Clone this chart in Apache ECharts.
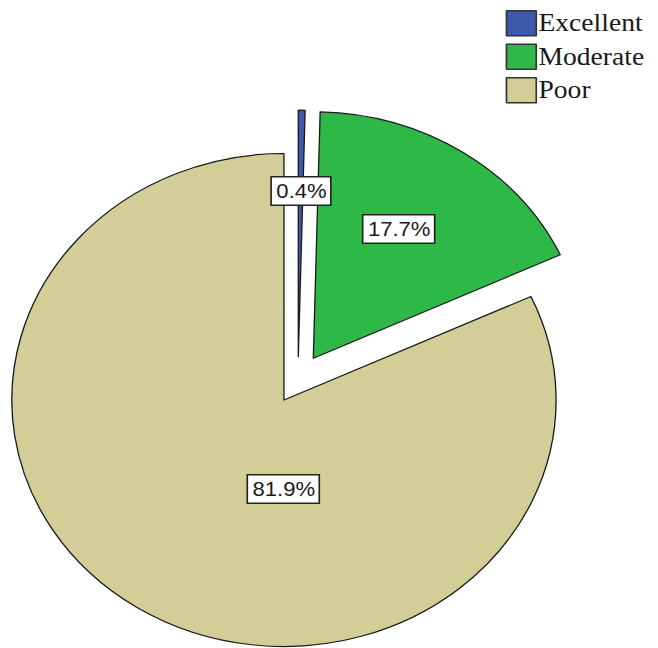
<!DOCTYPE html>
<html>
<head>
<meta charset="utf-8">
<script src="https://cdn.jsdelivr.net/npm/echarts@6/dist/echarts.min.js"></script>
<style>
  html, body { margin: 0; padding: 0; background: #fff; overflow: hidden; }
  /* the pie is drawn slightly wider than tall */
  #chart { width: 596px; height: 648px; transform: scaleX(1.104); transform-origin: 0 0; }
</style>
</head>
<body>
<div id="chart"></div>
<script>
const categories = ['Excellent', 'Moderate', 'Poor'];
const percents = [0.4, 17.7, 81.9];
const colors = ['#3E58AC', '#2EB848', '#D3CE97'];

// slice layout: each slice gets its own pie centre so the exploded pieces sit apart
const radius = 246.5;
const centers = [[270.2, 356.7], [283.8, 358.3], [257.2, 400]];
const labelPos = [[272.6, 191], [361.1, 229], [256.6, 489]];

const chart = echarts.init(document.getElementById('chart'), null, { renderer: 'svg' });

function seriesFor(k) {
  return {
    type: 'pie',
    name: categories[k],
    center: centers[k],
    radius: [0, radius],
    startAngle: 90,
    clockwise: true,
    selectedMode: false,
    avoidLabelOverlap: false,
    animation: false,
    silent: true,
    emphasis: { disabled: true },
    labelLine: { show: false },
    labelLayout: function () {
      return { x: labelPos[k][0], y: labelPos[k][1], align: 'center', verticalAlign: 'middle' };
    },
    data: categories.map(function (name, i) {
      const shown = i === k;
      return {
        name: name,
        value: percents[i],
        itemStyle: shown
          ? { color: colors[i], borderColor: '#1a1a1a', borderWidth: 1.2 }
          : { color: 'rgba(0,0,0,0)', borderWidth: 0 },
        label: shown
          ? {
              show: true,
              position: 'inside',
              formatter: '{c}%',
              fontFamily: 'Liberation Sans',
              fontSize: 20,
              color: '#1a1a1a',
              backgroundColor: '#fff',
              borderColor: '#222',
              borderWidth: 1.5,
              padding: [4, 3, 3, 4]
            }
          : { show: false }
      };
    })
  };
}

chart.setOption({
  backgroundColor: '#fff',
  legend: {
    orient: 'vertical',
    left: 458,
    top: 10,
    padding: 0,
    itemWidth: 27,
    itemHeight: 25,
    itemGap: 7,
    selectedMode: false,
    icon: 'rect',
    textStyle: { fontFamily: 'Liberation Serif', fontSize: 25, color: '#1a1a1a', lineHeight: 26, padding: [0, 0, 0, -3] },
    data: categories.map(function (name, i) {
      return { name: name, itemStyle: { color: colors[i], borderColor: '#333', borderWidth: 1.5 } };
    })
  },
  series: [seriesFor(2), seriesFor(0), seriesFor(1)]
});
</script>
</body>
</html>
